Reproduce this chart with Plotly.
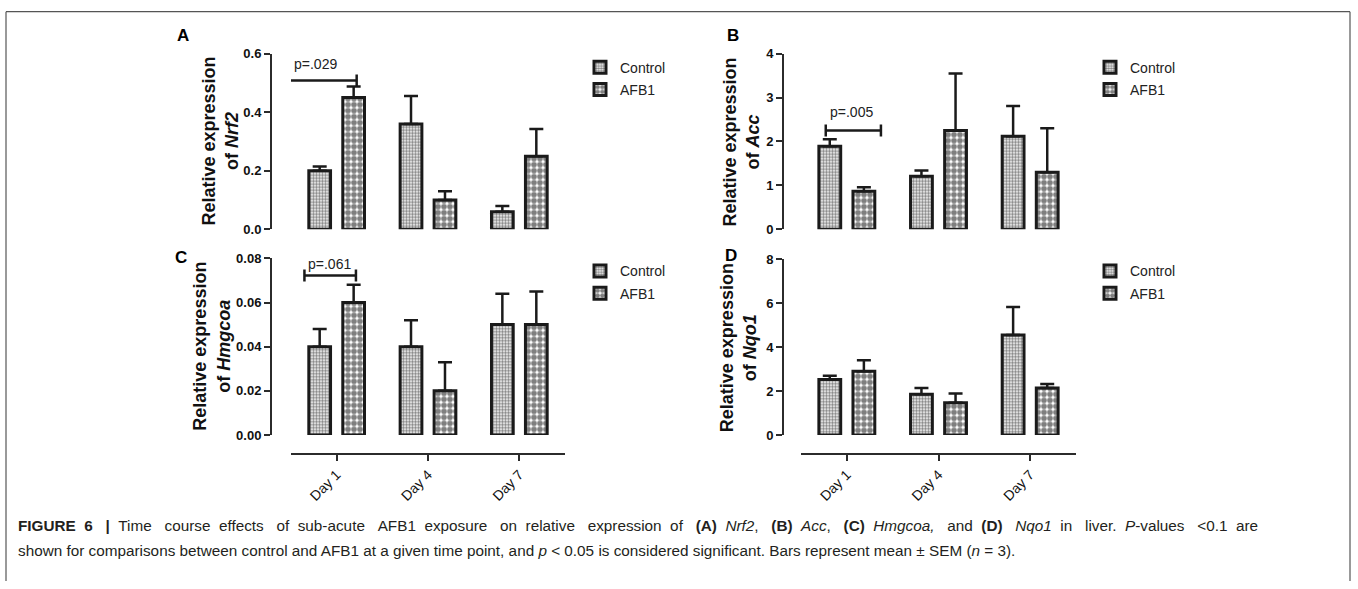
import plotly.graph_objects as go

W, H = 1358, 589

# ---------------- data ----------------
days = ["Day 1", "Day 4", "Day 7"]
series_names = ["Control", "AFB1"]

nrf2_control = [0.20, 0.36, 0.06]
nrf2_control_sem = [0.015, 0.095, 0.02]
nrf2_afb1 = [0.45, 0.10, 0.25]
nrf2_afb1_sem = [0.038, 0.03, 0.093]

acc_control = [1.89, 1.21, 2.12]
acc_control_sem = [0.16, 0.13, 0.69]
acc_afb1 = [0.87, 2.25, 1.30]
acc_afb1_sem = [0.09, 1.30, 1.00]

hmgcoa_control = [0.040, 0.040, 0.050]
hmgcoa_control_sem = [0.008, 0.012, 0.014]
hmgcoa_afb1 = [0.060, 0.020, 0.050]
hmgcoa_afb1_sem = [0.008, 0.013, 0.015]

nqo1_control = [2.53, 1.86, 4.55]
nqo1_control_sem = [0.17, 0.28, 1.28]
nqo1_afb1 = [2.91, 1.47, 2.14]
nqo1_afb1_sem = [0.50, 0.42, 0.18]

y_ticks_a = [0, 0.2, 0.4, 0.6]
y_ticks_b = [0, 1, 2, 3, 4]
y_ticks_c = [0, 0.02, 0.04, 0.06, 0.08]
y_ticks_d = [0, 2, 4, 6, 8]

p_labels = ["p=.029", "p=.005", "p=.061"]

# ---------------- layout helpers ----------------
# target pixel positions are given in picture pixels; the page is photographed with a
# slight vertical squeeze, so they are mapped back to figure pixels here.
def px_x(x):
    return x - 2

def px_y(y):
    return (y - 6.3) / 0.976

def fx(x):
    return px_x(x) / W

def fy(y):
    return 1 - px_y(y) / H

INK = "#1a1a1a"
AX = "#2b2b2b"
FONT = "Liberation Sans, Arial"

panels = [
    dict(letter="A", gene="Nrf2", c=nrf2_control, cs=nrf2_control_sem, a=nrf2_afb1, as_=nrf2_afb1_sem,
         ticks=y_ticks_a, fmt=".1f", xd=(293, 567), yd=(53, 229), yax=273, tx=222, lp=(185, 35),
         lx=582, ly=68, showx=False),
    dict(letter="B", gene="Acc", c=acc_control, cs=acc_control_sem, a=acc_afb1, as_=acc_afb1_sem,
         ticks=y_ticks_b, fmt="d", xd=(803, 1078), yd=(53, 229), yax=785, tx=743, lp=(735, 35),
         lx=1092, ly=68, showx=False),
    dict(letter="C", gene="Hmgcoa", c=hmgcoa_control, cs=hmgcoa_control_sem, a=hmgcoa_afb1, as_=hmgcoa_afb1_sem,
         ticks=y_ticks_c, fmt=".2f", xd=(293, 567), yd=(258, 435), yax=273, tx=214, lp=(183, 257),
         lx=582, ly=272, showx=True),
    dict(letter="D", gene="Nqo1", c=nqo1_control, cs=nqo1_control_sem, a=nqo1_afb1, as_=nqo1_afb1_sem,
         ticks=y_ticks_d, fmt="d", xd=(803, 1078), yd=(259, 435), yax=785, tx=740, lp=(733, 255),
         lx=1092, ly=272, showx=True),
]
X_AXIS_Y = 454
LEGEND_FIRST_ITEM_OFFSET = 17.4  # figure px from legend top to first item centre

brackets = [
    # panel index, x0, x1, y, text x, text y
    (0, -0.525, 0.219, 0.508, -0.23, 0.566),
    (1, -0.23, 0.372, 2.25, 0.055, 2.66),
    (2, -0.353, 0.211, 0.0722, -0.08, 0.0773),
]

patterns = [
    dict(shape=".", size=3, solidity=0.55, fgcolor="#000000", bgcolor="#ffffff"),
    dict(shape=".", size=6, solidity=0.7, fgcolor="#000000", bgcolor="#ffffff"),
]

fig = go.Figure()
annotations = []
shapes = []
layout = {}

for i, p in enumerate(panels):
    n = i + 1
    xa = "x" if n == 1 else f"x{n}"
    ya = "y" if n == 1 else f"y{n}"
    xkey = "xaxis" if n == 1 else f"xaxis{n}"
    ykey = "yaxis" if n == 1 else f"yaxis{n}"
    lkey = "legend" if n == 1 else f"legend{n}"

    for j, (vals, sems) in enumerate([(p["c"], p["cs"]), (p["a"], p["as_"])]):
        fig.add_trace(go.Bar(
            x=days, y=vals, name=series_names[j],
            xaxis=xa, yaxis=ya, legend=lkey, legendgroup=f"{lkey}_{j}",
            marker=dict(color="#ffffff", line=dict(color=INK, width=3), pattern=patterns[j]),
            error_y=dict(type="data", symmetric=False, array=sems, arrayminus=[0] * len(sems),
                         thickness=2.5, width=7, color=INK),
            offsetgroup=str(j),
        ))

    xaxis = dict(domain=[fx(p["xd"][0]), fx(p["xd"][1])], range=[-0.5, 2.5], type="category",
                 showgrid=False, zeroline=False, fixedrange=True)
    if p["showx"]:
        xaxis.update(anchor="free", position=fy(X_AXIS_Y), showline=True, linecolor=AX, linewidth=2,
                     ticks="outside", ticklen=6, tickwidth=2, tickcolor=AX, tickangle=-45,
                     tickfont=dict(family=FONT, size=14, color="#111111"))
    else:
        xaxis.update(anchor=ya, visible=False)
    layout[xkey] = xaxis

    layout[ykey] = dict(
        domain=[fy(p["yd"][1]), fy(p["yd"][0])], range=[0, p["ticks"][-1]],
        anchor="free", position=fx(p["yax"]),
        tickvals=p["ticks"], tickformat=p["fmt"],
        showline=True, linecolor=AX, linewidth=2, ticks="outside", ticklen=6, tickwidth=2, tickcolor=AX,
        showgrid=False, zeroline=False, fixedrange=True,
        tickfont=dict(family=FONT, size=13, color="#111111", weight="bold"),
    )

    legend_top = 1 - (px_y(p["ly"]) - LEGEND_FIRST_ITEM_OFFSET) / H
    layout[lkey] = dict(x=fx(p["lx"]), y=legend_top, xanchor="left", yanchor="top",
                        font=dict(family=FONT, size=14, color="#222222"),
                        bgcolor="rgba(0,0,0,0)", tracegroupgap=1)

    annotations.append(dict(
        text=f"<b>Relative expression<br>of <i>{p['gene']}</i></b>",
        xref="paper", yref="paper", x=fx(p["tx"]), y=fy((p["yd"][0] + p["yd"][1]) / 2),
        xanchor="center", yanchor="middle", textangle=-90, showarrow=False,
        font=dict(family=FONT, size=18, color="#111111"),
    ))
    annotations.append(dict(
        text=f"<b>{p['letter']}</b>", xref="paper", yref="paper",
        x=fx(p["lp"][0]), y=fy(p["lp"][1]), xanchor="center", yanchor="middle", showarrow=False,
        font=dict(family=FONT, size=17, color="#000000"),
    ))

for k, (pi, x0, x1, yv, tx, ty) in enumerate(brackets):
    n = pi + 1
    xa = "x" if n == 1 else f"x{n}"
    ya = "y" if n == 1 else f"y{n}"
    shapes.append(dict(type="line", xref=xa, yref=ya, x0=x0, x1=x1, y0=yv, y1=yv,
                       line=dict(color=INK, width=2.5)))
    for xe in (x0, x1):
        shapes.append(dict(type="line", xref=xa, yref=ya, x0=xe, x1=xe,
                           ysizemode="pixel", yanchor=yv, y0=-6, y1=6,
                           line=dict(color=INK, width=2.5)))
    annotations.append(dict(text=p_labels[k], xref=xa, yref=ya, x=tx, y=ty, showarrow=False,
                            xanchor="center", yanchor="middle",
                            font=dict(family=FONT, size=14, color="#222222")))

frame_col = "#555555"
shapes += [
    dict(type="line", xref="paper", yref="paper", x0=fx(8), x1=fx(1352), y0=fy(11), y1=fy(11),
         line=dict(color=frame_col, width=1.2)),
    dict(type="line", xref="paper", yref="paper", x0=fx(8), x1=fx(8), y0=fy(11), y1=0,
         line=dict(color=frame_col, width=1.2)),
    dict(type="line", xref="paper", yref="paper", x0=fx(1352), x1=fx(1352), y0=fy(11), y1=0,
         line=dict(color=frame_col, width=1.2)),
]

# caption (first line justified with wider word gaps, as in the typeset figure)
cap_font = dict(family=FONT, size=15.3, color="#231f20")
caption1_words = ["<b>FIGURE", "6", "|</b>", "Time", "course", "effects", "of", "sub-acute", "AFB1",
                  "exposure", "on", "relative", "expression", "of", "<b>(A)</b>", "<i>Nrf2</i>,",
                  "<b>(B)</b>", "<i>Acc</i>,", "<b>(C)</b>", "<i>Hmgcoa,</i>", "and", "<b>(D)</b>",
                  "<i>Nqo1</i>", "in", "liver.", "<i>P</i>-values", "&lt;0.1", "are"]
caption1 = caption1_words[0]
for idx, w in enumerate(caption1_words[1:]):
    caption1 += (" \u00a0" if idx % 2 == 0 else " \u00a0\u00a0") + w
caption2 = ("shown for comparisons between control and AFB1 at a given time point, and <i>p</i> &lt; 0.05 "
            "is considered significant. Bars represent mean ± SEM (<i>n</i> = 3).")
annotations.append(dict(text=caption1, xref="paper", yref="paper", x=fx(18), y=fy(526),
                        xanchor="left", yanchor="middle", showarrow=False, font=cap_font))
annotations.append(dict(text=caption2, xref="paper", yref="paper", x=fx(18), y=fy(551),
                        xanchor="left", yanchor="middle", showarrow=False, font=cap_font))

fig.update_layout(
    width=W, height=H, margin=dict(l=0, r=0, t=0, b=0),
    paper_bgcolor="#ffffff", plot_bgcolor="rgba(0,0,0,0)",
    barmode="group", bargap=0.256, bargroupgap=0.36,
    annotations=annotations, shapes=shapes, showlegend=True,
    **layout,
)

fig.write_html(
    "out.html", config={"displayModeBar": False},
    post_script=("document.documentElement.style.margin='0';document.body.style.margin='0';"
                 "document.body.style.overflow='hidden';"
                 "var gd=document.getElementById('{plot_id}');gd.style.position='fixed';"
                 "gd.style.top='0px';gd.style.left='0px';"),
)
